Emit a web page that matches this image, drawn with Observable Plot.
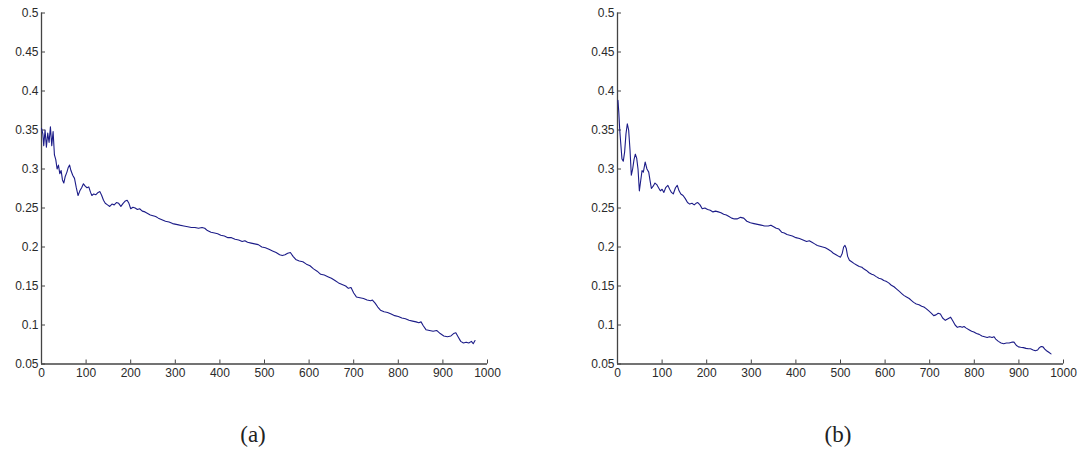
<!DOCTYPE html>
<html>
<head>
<meta charset="utf-8">
<script src="https://cdn.jsdelivr.net/npm/d3@7"></script>
<script src="https://cdn.jsdelivr.net/npm/@observablehq/plot@0.6"></script>
<style>
  html, body { margin: 0; padding: 0; background: #fff; }
  #wrap { position: relative; width: 1082px; height: 454px; overflow: hidden; }
  .panel { position: absolute; top: 0; }
  .cap { position: absolute; top: 422px; width: 100px; text-align: center;
         font-family: "Liberation Serif", "DejaVu Serif", serif; font-size: 23px; color: #222; }
</style>
</head>
<body>
<div id="wrap"></div>
<script>
// ---- data ----
const xTicks = [0, 100, 200, 300, 400, 500, 600, 700, 800, 900, 1000];
const xTickLabels = ["0", "100", "200", "300", "400", "500", "600", "700", "800", "900", "1000"];
const yTicks = [0.05, 0.1, 0.15, 0.2, 0.25, 0.3, 0.35, 0.4, 0.45, 0.5];
const yTickLabels = ["0.05", "0.1", "0.15", "0.2", "0.25", "0.3", "0.35", "0.4", "0.45", "0.5"];
const xDomain = [0, 1000];
const yDomain = [0.05, 0.5];
const captions = ["(a)", "(b)"];

const xA = [0,3,5,8,11,14,17,20,23,26,29,32,35,38,41,44,47,50,53,57,60,63,66,70,74,78,82,86,90,94,98,102,106,110,113,117,122,127,131,135,139,143,148,153,158,163,168,173,178,183,188,192,196,200,205,210,215,220,226,232,238,244,250,256,262,270,278,286,294,302,310,319,328,336,344,352,360,366,372,380,388,395,402,410,418,426,434,442,450,456,462,470,478,486,494,502,510,518,526,534,540,546,552,558,564,570,578,586,594,602,610,618,626,634,642,650,658,666,674,682,688,694,700,706,714,722,730,738,742,748,754,760,768,776,784,792,800,808,816,824,832,840,846,851,856,862,870,878,886,894,902,910,918,924,929,934,940,946,952,958,964,968,972];
const yA = [0.352,0.345,0.330,0.350,0.328,0.346,0.334,0.354,0.330,0.348,0.318,0.312,0.300,0.305,0.294,0.298,0.286,0.282,0.290,0.296,0.302,0.305,0.298,0.292,0.288,0.276,0.266,0.272,0.276,0.281,0.278,0.276,0.277,0.270,0.266,0.268,0.267,0.270,0.271,0.266,0.260,0.256,0.254,0.252,0.255,0.254,0.257,0.256,0.252,0.256,0.259,0.260,0.256,0.249,0.251,0.250,0.248,0.249,0.246,0.245,0.243,0.241,0.240,0.239,0.237,0.235,0.233,0.232,0.230,0.229,0.228,0.227,0.226,0.225,0.225,0.224,0.225,0.224,0.221,0.219,0.218,0.217,0.215,0.214,0.212,0.212,0.210,0.209,0.207,0.208,0.206,0.205,0.204,0.203,0.200,0.199,0.197,0.195,0.193,0.190,0.189,0.190,0.192,0.193,0.188,0.184,0.182,0.181,0.178,0.176,0.172,0.169,0.165,0.164,0.162,0.160,0.157,0.154,0.152,0.150,0.147,0.148,0.141,0.136,0.135,0.134,0.132,0.131,0.132,0.128,0.123,0.119,0.117,0.116,0.114,0.112,0.111,0.109,0.108,0.106,0.105,0.104,0.103,0.104,0.099,0.094,0.093,0.092,0.093,0.089,0.086,0.085,0.086,0.089,0.090,0.085,0.079,0.077,0.078,0.077,0.079,0.076,0.080];

const xB = [1,3,5,7,10,13,16,19,22,25,28,31,34,37,40,43,46,49,52,55,58,62,66,70,73,76,80,84,88,92,96,100,104,108,113,117,121,125,130,134,138,142,147,152,157,162,167,172,176,180,185,190,196,202,208,214,220,226,232,238,244,250,256,262,268,276,283,290,298,306,314,322,330,338,344,350,356,362,368,374,380,386,392,400,408,416,424,430,436,442,448,454,460,466,472,478,484,490,496,500,504,507,510,513,516,520,525,530,536,542,548,552,558,564,570,575,580,586,592,597,602,608,614,620,626,632,638,642,648,654,660,664,670,676,682,687,692,698,704,709,714,719,724,729,735,741,747,752,757,762,768,773,777,782,788,794,799,805,811,817,823,829,834,840,844,848,854,860,866,872,878,884,889,894,899,904,910,916,921,926,932,937,942,946,950,954,958,962,967,972];
const yB = [0.388,0.372,0.350,0.335,0.313,0.310,0.322,0.345,0.358,0.350,0.325,0.292,0.300,0.312,0.319,0.314,0.300,0.272,0.285,0.298,0.296,0.309,0.300,0.296,0.285,0.275,0.278,0.282,0.280,0.276,0.272,0.274,0.270,0.276,0.279,0.274,0.270,0.268,0.276,0.279,0.272,0.268,0.266,0.262,0.257,0.255,0.256,0.254,0.256,0.257,0.254,0.249,0.250,0.248,0.247,0.245,0.246,0.245,0.244,0.242,0.241,0.239,0.237,0.236,0.236,0.238,0.237,0.233,0.231,0.230,0.229,0.228,0.227,0.227,0.228,0.226,0.224,0.223,0.219,0.218,0.216,0.215,0.214,0.212,0.211,0.209,0.207,0.208,0.206,0.204,0.202,0.201,0.200,0.199,0.197,0.195,0.192,0.190,0.188,0.187,0.192,0.200,0.202,0.198,0.188,0.183,0.181,0.179,0.177,0.175,0.174,0.172,0.170,0.167,0.165,0.164,0.162,0.160,0.159,0.157,0.156,0.154,0.151,0.149,0.146,0.143,0.140,0.138,0.136,0.134,0.131,0.129,0.127,0.126,0.124,0.123,0.121,0.118,0.115,0.112,0.113,0.115,0.114,0.109,0.106,0.108,0.110,0.105,0.100,0.097,0.098,0.097,0.098,0.096,0.094,0.092,0.091,0.089,0.088,0.086,0.085,0.084,0.085,0.084,0.085,0.082,0.079,0.077,0.076,0.077,0.077,0.078,0.078,0.074,0.072,0.0715,0.071,0.070,0.0695,0.0695,0.068,0.067,0.068,0.071,0.0725,0.072,0.069,0.067,0.065,0.063];

// ---- drawing ----
const W = 541, H = 392;
function panel(xs, ys, marginLeft, marginRight) {
  const data = xs.map((x, i) => ({x, y: ys[i]}));
  return Plot.plot({
    width: W, height: H,
    marginTop: 12.5, marginBottom: H - 363.5, marginLeft, marginRight,
    x: {domain: xDomain},
    y: {domain: yDomain},
    style: {fontFamily: "'Liberation Sans', Arial, sans-serif", fontSize: "12px", color: "#2a2a2a", background: "transparent"},
    marks: [
      Plot.ruleY([yDomain[0]], {stroke: "#444", strokeWidth: 1.3}),
      Plot.ruleX([xDomain[0]], {stroke: "#444", strokeWidth: 1.3}),
      Plot.axisX(xTicks, {tickSize: -4, tickPadding: 8, label: null, stroke: "#444",
        tickFormat: d => xTickLabels[xTicks.indexOf(d)]}),
      Plot.axisY(yTicks, {tickSize: -4, tickPadding: 7, label: null, stroke: "#444",
        tickFormat: d => yTickLabels[yTicks.indexOf(d)]}),
      Plot.line(data, {x: "x", y: "y", stroke: "#1c1c88", strokeWidth: 1.1})
    ]
  });
}

const wrap = document.getElementById("wrap");
const pa = panel(xA, yA, 41, W - 41 - 446);
pa.classList.add("panel"); pa.style.left = "0px";
wrap.appendChild(pa);
const pb = panel(xB, yB, 76, W - 76 - 446);
pb.classList.add("panel"); pb.style.left = "541px";
wrap.appendChild(pb);

[[captions[0], 253], [captions[1], 838]].forEach(([t, cx]) => {
  const d = document.createElement("div");
  d.className = "cap"; d.textContent = t; d.style.left = (cx - 50) + "px";
  wrap.appendChild(d);
});
</script>
</body>
</html>
